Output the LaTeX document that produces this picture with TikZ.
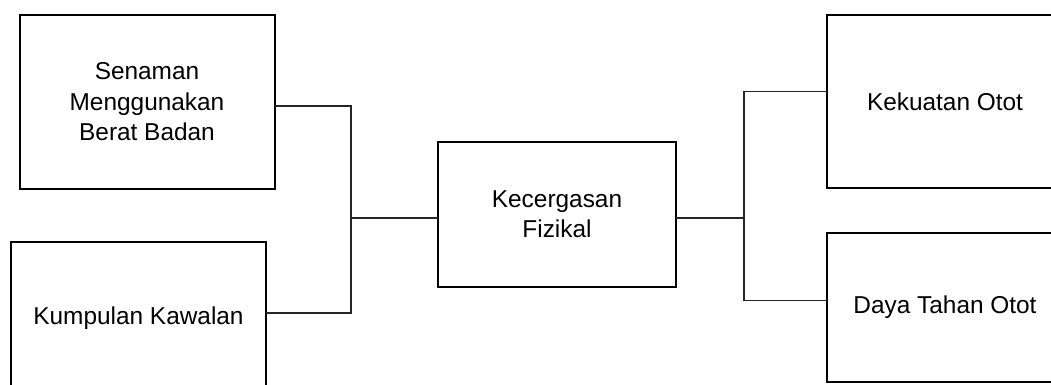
\documentclass[tikz,border=0pt]{standalone}
\usepackage{fontspec}
\setmainfont{Liberation Sans}
\begin{document}
\begin{tikzpicture}[x=0.75pt,y=-0.75pt,
  box/.style={draw=black,line width=1.5pt,inner sep=0pt,outer sep=0pt,
    align=center,font=\fontsize{18.3}{22.8}\selectfont},
  conn/.style={draw=black!85,line width=0.8pt}]
  % canvas
  \path[use as bounding box,clip] (0,0) rectangle (1051,385);
  \fill[white] (0,0) rectangle (1051,385);

  % left-hand boxes
  \node[box,minimum width=191.25pt,minimum height=130.5pt] (b1) at (147,102)
    {Senaman\\Menggunakan\\Berat Badan};
  \node[box,minimum width=191.25pt,minimum height=114pt] (b2) at (138.5,318)
    {Kumpulan Kawalan};

  % central box
  \node[box,minimum width=178.5pt,minimum height=108.75pt] (c) at (557,214.5)
    {Kecergasan\\Fizikal};

  % right-hand boxes
  \node[box,minimum width=177.45pt,minimum height=130pt] (tr) at (945,101.7)
    {Kekuatan Otot};
  \node[box,minimum width=177pt,minimum height=111.75pt] (br) at (945,307.2)
    {Daya Tahan Otot};

  % junction points
  \coordinate (jl) at (351,218);
  \coordinate (jr) at (744,218);

  % connectors
  \draw[conn] ([yshift=-3pt]b1.east) -| (jl) |- ([yshift=3.75pt]b2.east);
  \draw[conn] (jl) -- (jl -| c.west);
  \draw[conn] (c.east |- jr) -- (jr);
  \draw[conn] ([yshift=7.9pt]tr.west) -| (jr) |- ([yshift=4.9pt]br.west);
\end{tikzpicture}
\end{document}
